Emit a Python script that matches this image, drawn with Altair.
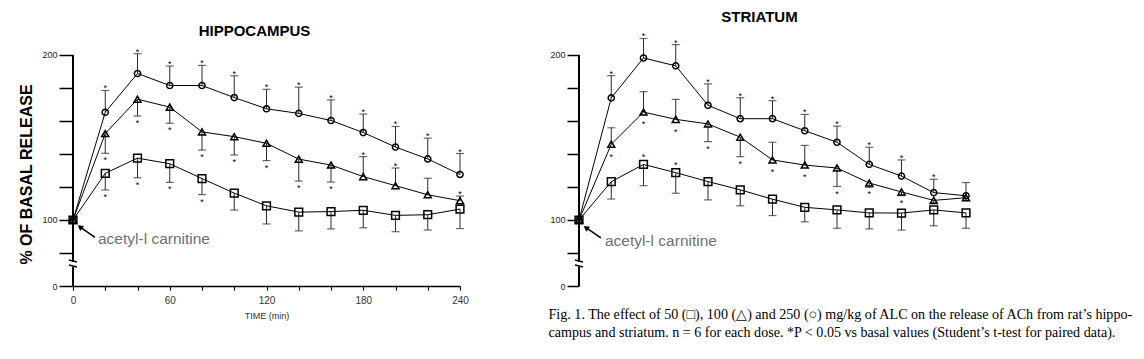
import altair as alt
import pandas as pd

# ---------------- data ----------------
TIME = [0, 20, 40, 60, 80, 100, 120, 140, 160, 180, 200, 220, 240]
DOSES = ["50", "100", "250"]
A, B = "above", "below"

HIPPO_250 = [100, 165.3, 188.8, 181.5, 181.5, 174.2, 167.4, 164.6, 160.3, 153.0, 144.2, 137.0, 127.6]
HIPPO_250_ERR = [None, 178.5, 200.8, 193.3, 193.7, 187.4, 179.2, 180.5, 172.8, 164.2, 156.7, 149.6, 140.3]
HIPPO_250_STAR = ["", A, A, A, A, A, A, A, A, A, A, A, A]

HIPPO_100 = [100, 152.4, 173.2, 168.4, 153.4, 150.5, 146.5, 136.9, 133.3, 126.3, 120.8, 115.3, 111.7]
HIPPO_100_ERR = [None, 140.4, 163.0, 158.6, 142.4, 139.4, 136.0, 123.6, 123.0, 138.4, 131.5, 125.3, 114.5]
HIPPO_100_STAR = ["", B, B, B, B, B, B, B, B, A, A, "", A]

HIPPO_50 = [100, 128.3, 137.5, 134.1, 125.1, 116.3, 108.6, 104.8, 105.1, 105.9, 102.8, 103.2, 106.6]
HIPPO_50_ERR = [None, 118.2, 125.6, 122.8, 115.4, 106.0, 97.6, 93.4, 94.6, 95.3, 92.9, 93.9, 94.8]
HIPPO_50_STAR = ["", B, B, B, B, "", "", "", "", "", "", "", ""]

STRIA_250 = [100, 174.0, 198.2, 193.4, 169.5, 161.4, 161.4, 154.1, 147.1, 133.7, 126.6, 116.6, 114.7]
STRIA_250_ERR = [None, 187.5, 210.0, 206.3, 182.5, 174.1, 172.3, 164.0, 156.9, 144.1, 136.4, 124.7, 122.7]
STRIA_250_STAR = ["", A, A, A, A, A, A, A, A, A, A, A, ""]

STRIA_100 = [100, 145.9, 165.4, 161.0, 158.2, 150.2, 136.4, 133.3, 131.5, 122.4, 117.0, 111.9, 113.5]
STRIA_100_ERR = [None, 155.9, 177.8, 173.1, 147.5, 138.4, 147.1, 145.2, 120.3, 119.8, 114.8, 110.5, 111.8]
STRIA_100_STAR = ["", B, B, B, B, B, B, B, B, B, B, "", ""]

STRIA_50 = [100, 123.2, 133.7, 128.7, 123.3, 118.3, 112.6, 107.7, 106.1, 104.3, 104.2, 106.1, 104.3]
STRIA_50_ERR = [None, 112.7, 120.8, 116.2, 112.2, 108.6, 102.7, 98.9, 95.0, 94.6, 93.9, 96.5, 95.0]
STRIA_50_STAR = ["", "", A, A, "", "", "", "", "", "", "", "", ""]

Y_TICKS = [60, 80, 100, 120, 140, 160, 180, 200]   # 60 stands for the broken "0"
AXIS_SEGMENTS = [(200, 74.5), (71.5, 60)]
BREAKS = [74.5, 71.5]

ANNOT_TEXT = "acetyl-l carnitine"
H_ARROW = dict(t=13.6, v=89.5, t2=4.3, v2=95.8)
H_LABEL = dict(t=15.5, v=88.3)
S_ARROW = dict(t=13.6, v=89.2, t2=4.3, v2=95.4)
S_LABEL = dict(t=16.1, v=87.0)

CAPTION = [
    "Fig. 1. The effect of 50 (\u25a1), 100 (\u25b3) and 250 (\u25cb) mg/kg of ALC on the release of ACh from rat\u2019s hippo-",
    "campus and striatum. n = 6 for each dose. *P < 0.05 vs basal values (Student\u2019s t-test for paired data).",
]

FONT = "Liberation Sans"
Y_DOMAIN = [60, 215.15]
W, H = 387, 256


def panel_df(series):
    rows = []
    for dose, vals, errs, stars in series:
        for t, v, e, s in zip(TIME, vals, errs, stars):
            sy = None
            if s == A:
                sy = e if (e is not None and e > v) else v + 3.2
            elif s == B:
                sy = e if (e is not None and e < v) else v - 3.2
            rows.append({"t": t, "v": v, "err": e, "star": s, "star_y": sy, "dose": dose})
    return pd.DataFrame(rows)


def make_panel(df, title, title_dx, title_offset, x_axis, y_axis, arrow, label):
    xs = alt.Scale(domain=[0, 240], nice=False, zero=False)
    ys = alt.Scale(domain=Y_DOMAIN, nice=False, zero=False)

    def X(f):
        return alt.X(f, type="quantitative", scale=xs, axis=x_axis)

    def Y(f):
        return alt.Y(f, type="quantitative", scale=ys, axis=y_axis)

    base = alt.Chart(df)
    errs = base.transform_filter("datum.err != null")
    bars = errs.mark_rule(color="#2a2a2a", strokeWidth=1).encode(x=X("t"), y=Y("v"), y2="err")
    caps = errs.mark_tick(orient="horizontal", size=8, thickness=1.2, color="#2a2a2a").encode(
        x=X("t"), y=Y("err"))
    lines = base.mark_line(color="black", strokeWidth=1).encode(
        x=X("t"), y=Y("v"), detail="dose:N", order="t:Q")
    pts = base.mark_point(filled=False, color="black", strokeWidth=1.5, opacity=1).encode(
        x=X("t"), y=Y("v"),
        shape=alt.Shape("dose:N", scale=alt.Scale(domain=DOSES, range=["square", "triangle-up", "circle"]), legend=None),
        size=alt.Size("dose:N", scale=alt.Scale(domain=DOSES, range=[60, 38, 72]), legend=None),
    )
    star_up = base.transform_filter("datum.star == 'above'").mark_text(
        text="*", fontSize=9, font=FONT, baseline="alphabetic", dy=1, color="black").encode(
        x=X("t"), y=Y("star_y"))
    star_dn = base.transform_filter("datum.star == 'below'").mark_text(
        text="*", fontSize=9, font=FONT, baseline="alphabetic", dy=10, color="black").encode(
        x=X("t"), y=Y("star_y"))

    seg_df = pd.DataFrame([{"y1": a, "y2": b} for a, b in AXIS_SEGMENTS])
    axis_line = alt.Chart(seg_df).mark_rule(color="black", strokeWidth=2).encode(
        x=alt.value(0), y=Y("y1"), y2="y2")
    brk_df = pd.DataFrame({"b": BREAKS, "b2": [b + 1.2 for b in BREAKS]})
    breaks = alt.Chart(brk_df).mark_rule(color="black", strokeWidth=1.5).encode(
        x=alt.value(-4), x2=alt.value(4), y=Y("b2"), y2="b")

    arr_df = pd.DataFrame([arrow])
    arrow_line = alt.Chart(arr_df).mark_rule(color="black", strokeWidth=1.5).encode(
        x=X("t"), x2="t2", y=Y("v"), y2="v2")
    arrow_head = alt.Chart(arr_df).mark_point(shape="triangle-up", filled=True, color="black",
                                              size=40, angle=306, opacity=1).encode(
        x=X("t2"), y=Y("v2"))
    lab_df = pd.DataFrame([label])
    lab = alt.Chart(lab_df).mark_text(text=ANNOT_TEXT, font=FONT, fontSize=15.5, color="#707070",
                                      align="left", baseline="middle").encode(x=X("t"), y=Y("v"))

    return alt.layer(axis_line, breaks, bars, caps, lines, pts, star_up, star_dn,
                     arrow_line, arrow_head, lab).properties(
        width=W, height=H,
        title=alt.TitleParams(title, font=FONT, fontSize=15, fontWeight="bold", color="black",
                              anchor="middle", dx=title_dx, offset=title_offset,
                              baseline="alphabetic"),
    )


y_labels = "datum.value == 60 ? '0' : ((datum.value == 100 || datum.value == 200) ? datum.label : '')"

h_y_axis = alt.Axis(values=Y_TICKS, labelExpr=y_labels, domain=False, tickSize=14, tickWidth=1.5,
                    tickColor="black", labelFontSize=9, labelFont=FONT, labelColor="#222",
                    labelPadding=2, labelFlush=False,
                    title="% OF BASAL RELEASE", titleFont=FONT, titleFontSize=16,
                    titleFontWeight="bold", titleColor="black", titleX=-47, titleY=144,
                    titleBaseline="middle", titleAngle=270)
s_y_axis = alt.Axis(values=Y_TICKS, labelExpr=y_labels, domain=False, tickSize=12, tickWidth=1.5,
                    tickColor="black", labelFontSize=9, labelFont=FONT, labelColor="#222",
                    labelPadding=2, labelFlush=False, title=None)
h_x_axis = alt.Axis(values=TIME, labelExpr="datum.value % 60 == 0 ? datum.label : ''",
                    domainColor="black", domainWidth=1.5, tickColor="black", tickSize=4,
                    tickWidth=1.2, labelFontSize=10, labelFont=FONT, labelColor="#333",
                    labelPadding=5, labelFlush=False,
                    title="TIME (min)", titleFont=FONT, titleFontSize=9,
                    titleFontWeight="normal", titleColor="#333", titlePadding=6)
s_x_axis = alt.Axis(domain=False, ticks=False, labels=False, grid=False,
                    title=CAPTION, titleFont="Liberation Serif", titleFontSize=14.1,
                    titleFontWeight="normal", titleColor="black", titleAlign="left",
                    titleBaseline="top", titleX=-31, titleY=21, titleLineHeight=18, titleAngle=0)

hippo_df = panel_df([
    ("50", HIPPO_50, HIPPO_50_ERR, HIPPO_50_STAR),
    ("100", HIPPO_100, HIPPO_100_ERR, HIPPO_100_STAR),
    ("250", HIPPO_250, HIPPO_250_ERR, HIPPO_250_STAR),
])
stria_df = panel_df([
    ("50", STRIA_50, STRIA_50_ERR, STRIA_50_STAR),
    ("100", STRIA_100, STRIA_100_ERR, STRIA_100_STAR),
    ("250", STRIA_250, STRIA_250_ERR, STRIA_250_STAR),
])

hippo = make_panel(hippo_df, "HIPPOCAMPUS", -12, -20.5, h_x_axis, h_y_axis, H_ARROW, H_LABEL)
stria = make_panel(stria_df, "STRIATUM", -13, -7, s_x_axis, s_y_axis, S_ARROW, S_LABEL)

chart = alt.hconcat(hippo, stria, spacing=119, bounds="flush").properties(
    padding={"left": 10, "top": 2, "right": 0, "bottom": 2},
    background="white",
).configure_view(stroke=None).configure_axis(grid=False)

chart.save("out.html", embed_options={"renderer": "svg", "actions": False})
